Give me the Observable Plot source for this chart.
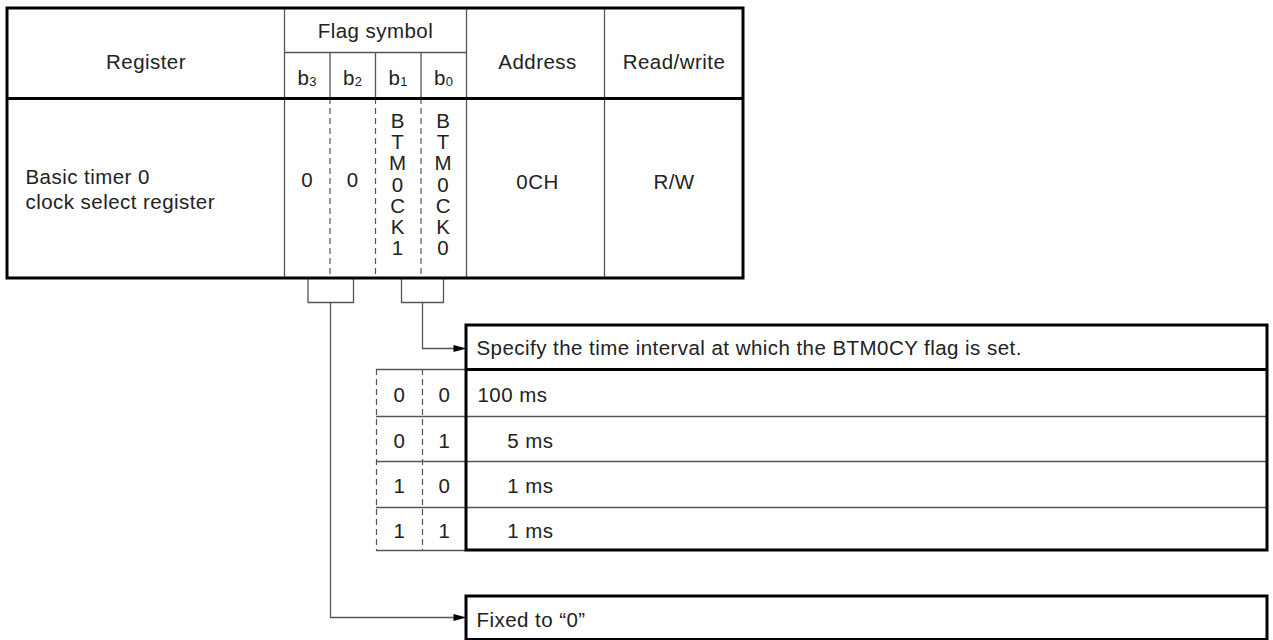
<!DOCTYPE html>
<html><head><meta charset="utf-8">
<script src="https://cdn.jsdelivr.net/npm/d3@7"></script>
<script src="https://cdn.jsdelivr.net/npm/@observablehq/plot@0.6"></script>
<style>html,body{margin:0;padding:0;background:#fff}svg{display:block}svg text{letter-spacing:0.45px}</style>
</head><body><div id="chart"></div>
<script>
// ---------- data ----------
const registerName = ["Basic timer 0", "clock select register"];
const headerRegister = "Register";
const headerFlag = "Flag symbol";
const headerAddress = "Address";
const headerRW = "Read/write";
const bitNames = ["3", "2", "1", "0"];            // b3 .. b0
const flagSymbols = ["0", "0", "BTM0CK1", "BTM0CK0"];
const addressValue = "0CH";
const rwValue = "R/W";
const selectTitle = "Specify the time interval at which the BTM0CY flag is set.";
const selectB1 = ["0", "0", "1", "1"];
const selectB0 = ["0", "1", "0", "1"];
const selectIntervals = ["100 ms", "\u2007\u2007 5 ms", "\u2007\u2007 1 ms", "\u2007\u2007 1 ms"];
const fixedNote = "Fixed to \u201C0\u201D";

// ---------- layout (diagram geometry) ----------
const T = {left: 7, right: 743, top: 8, flagRow: 52, head: 98, bottom: 278};
const colX = [7, 284, 329.5, 375, 420.5, 466, 604, 743]; // reg | b3 | b2 | b1 | b0 | addr | rw
const bitCenter = i => (colX[1 + i] + colX[2 + i]) / 2;
const D = {left: 466, right: 1267, top: 325, headBottom: 369, rows: [369, 416, 461, 507, 550], tl: 376, tm: 422};
const F = {top: 596, bottom: 639.5};
const brk = {top: 278, bot: 302};
const brackets = [{id: "a", x1: 307.5, x2: 353}, {id: "b", x1: 401, x2: 443}];
const leaders = [{id: "a", x: 330, y: 617}, {id: "b", x: 422, y: 348}];

const thin = "#555", thick = "#000";
const FONT = "'Liberation Sans', Arial, Helvetica, sans-serif";
const FS = 20.5;

// ---------- derived mark data ----------
const thickRects = [
  {x1: T.left, x2: T.right, y1: T.top, y2: T.bottom},
  {x1: D.left, x2: D.right, y1: D.top, y2: D.rows[4]},
  {x1: D.left, x2: D.right, y1: F.top, y2: F.bottom}
];
const thickH = [
  {x1: T.left, x2: T.right, y: T.head},
  {x1: D.left, x2: D.right, y: D.headBottom}
];
const thinV = [
  {x: colX[1], y1: T.top, y2: T.bottom},
  {x: colX[5], y1: T.top, y2: T.bottom},
  {x: colX[6], y1: T.top, y2: T.bottom},
  ...[2, 3, 4].map(i => ({x: colX[i], y1: T.flagRow, y2: T.head}))
];
const thinH = [
  {x1: colX[1], x2: colX[5], y: T.flagRow},
  {x1: D.tl, x2: D.left, y: D.rows[0]},
  {x1: D.tl, x2: D.left, y: D.rows[4]},
  ...D.rows.slice(1, 4).map(y => ({x1: D.tl, x2: D.right, y}))
];
const dashedV = [
  ...[2, 3, 4].map(i => ({x: colX[i], y1: T.head, y2: T.bottom})),
  {x: D.tl, y1: D.rows[0], y2: D.rows[4]},
  {x: D.tm, y1: D.rows[0], y2: D.rows[4]}
];
const bracketPts = brackets.flatMap(b => [
  {id: b.id, x: b.x1, y: brk.top}, {id: b.id, x: b.x1, y: brk.bot},
  {id: b.id, x: b.x2, y: brk.bot}, {id: b.id, x: b.x2, y: brk.top}
]);
const leaderPts = leaders.flatMap(l => [
  {id: l.id, x: l.x, y: brk.bot}, {id: l.id, x: l.x, y: l.y}, {id: l.id, x: D.left - 8, y: l.y}
]);
const arrowHeads = leaders.map(l => ({x: D.left, y: l.y}));
const arrowSymbol = {draw(ctx) { ctx.moveTo(0, 0); ctx.lineTo(-13, -3.6); ctx.lineTo(-13, 3.6); ctx.closePath(); }};

const midBody = (T.head + T.bottom) / 2;
const centered = [
  {t: headerRegister, x: (colX[0] + colX[1]) / 2, y: 62},
  {t: headerFlag, x: (colX[1] + colX[5]) / 2, y: 31},
  {t: headerAddress, x: (colX[5] + colX[6]) / 2 + 2, y: 62},
  {t: headerRW, x: (colX[6] + colX[7]) / 2, y: 62},
  {t: addressValue, x: (colX[5] + colX[6]) / 2 + 2, y: midBody - 6},
  {t: rwValue, x: (colX[6] + colX[7]) / 2, y: midBody - 6}
];
const regLines = registerName.map((t, i) => ({t, x: 25, y: 177 + i * 25}));
const bitB = bitNames.map((d, i) => ({t: "b", x: bitCenter(i) + 2, y: 78}));
const bitSub = bitNames.map((d, i) => ({t: d, x: bitCenter(i) + 2, y: 81}));
const flagChars = flagSymbols.flatMap((s, i) => s.length === 1
  ? [{t: s, x: bitCenter(i), y: 180}]
  : s.split("").map((c, k) => ({t: c, x: bitCenter(i) - 0.5, y: 121 + k * 21.2})));
const tableCells = selectB1.flatMap((v, r) => {
  const yc = (D.rows[r] + D.rows[r + 1]) / 2 + 2;
  return [
    {t: v, x: (D.tl + D.tm) / 2, y: yc},
    {t: selectB0[r], x: (D.tm + D.left) / 2, y: yc}
  ];
});
const leftTexts = [
  {t: selectTitle, x: D.left + 10, y: (D.top + D.headBottom) / 2 + 1},
  ...selectIntervals.map((t, r) => ({t, x: D.left + 11, y: (D.rows[r] + D.rows[r + 1]) / 2 + 2})),
  {t: fixedNote, x: D.left + 10, y: 620}
];

const txt = (data, o = {}) => Plot.text(data, {x: "x", y: "y", text: "t", fontSize: FS, fill: "#222", fontFamily: FONT, ...o});

const chart = Plot.plot({
  width: 1273, height: 640, margin: 0,
  x: {type: "linear", domain: [0, 1273], range: [0, 1273], axis: null},
  y: {type: "linear", domain: [0, 640], range: [0, 640], axis: null},
  style: {background: "#fff", fontFamily: FONT},
  marks: [
    Plot.ruleX(dashedV, {x: "x", y1: "y1", y2: "y2", stroke: thin, strokeWidth: 1.2, strokeDasharray: "6,4"}),
    Plot.ruleX(thinV, {x: "x", y1: "y1", y2: "y2", stroke: thin, strokeWidth: 1.3}),
    Plot.ruleY(thinH, {y: "y", x1: "x1", x2: "x2", stroke: thin, strokeWidth: 1.3}),
    Plot.line(bracketPts, {x: "x", y: "y", z: "id", stroke: thin, strokeWidth: 1.3, curve: "linear"}),
    Plot.line(leaderPts, {x: "x", y: "y", z: "id", stroke: thin, strokeWidth: 1.3, curve: "linear"}),
    Plot.dot(arrowHeads, {x: "x", y: "y", symbol: arrowSymbol, fill: "#000", stroke: "none"}),
    Plot.ruleY(thickH, {y: "y", x1: "x1", x2: "x2", stroke: thick, strokeWidth: 3}),
    Plot.rect(thickRects, {x1: "x1", x2: "x2", y1: "y1", y2: "y2", stroke: thick, strokeWidth: 3, fill: "none"}),
    txt(centered),
    txt(regLines, {textAnchor: "start"}),
    txt(bitB, {textAnchor: "end"}),
    txt(bitSub, {textAnchor: "start", fontSize: 13}),
    txt(flagChars),
    txt(tableCells),
    txt(leftTexts, {textAnchor: "start"})
  ]
});
document.getElementById("chart").appendChild(chart);
</script>
</body></html>
